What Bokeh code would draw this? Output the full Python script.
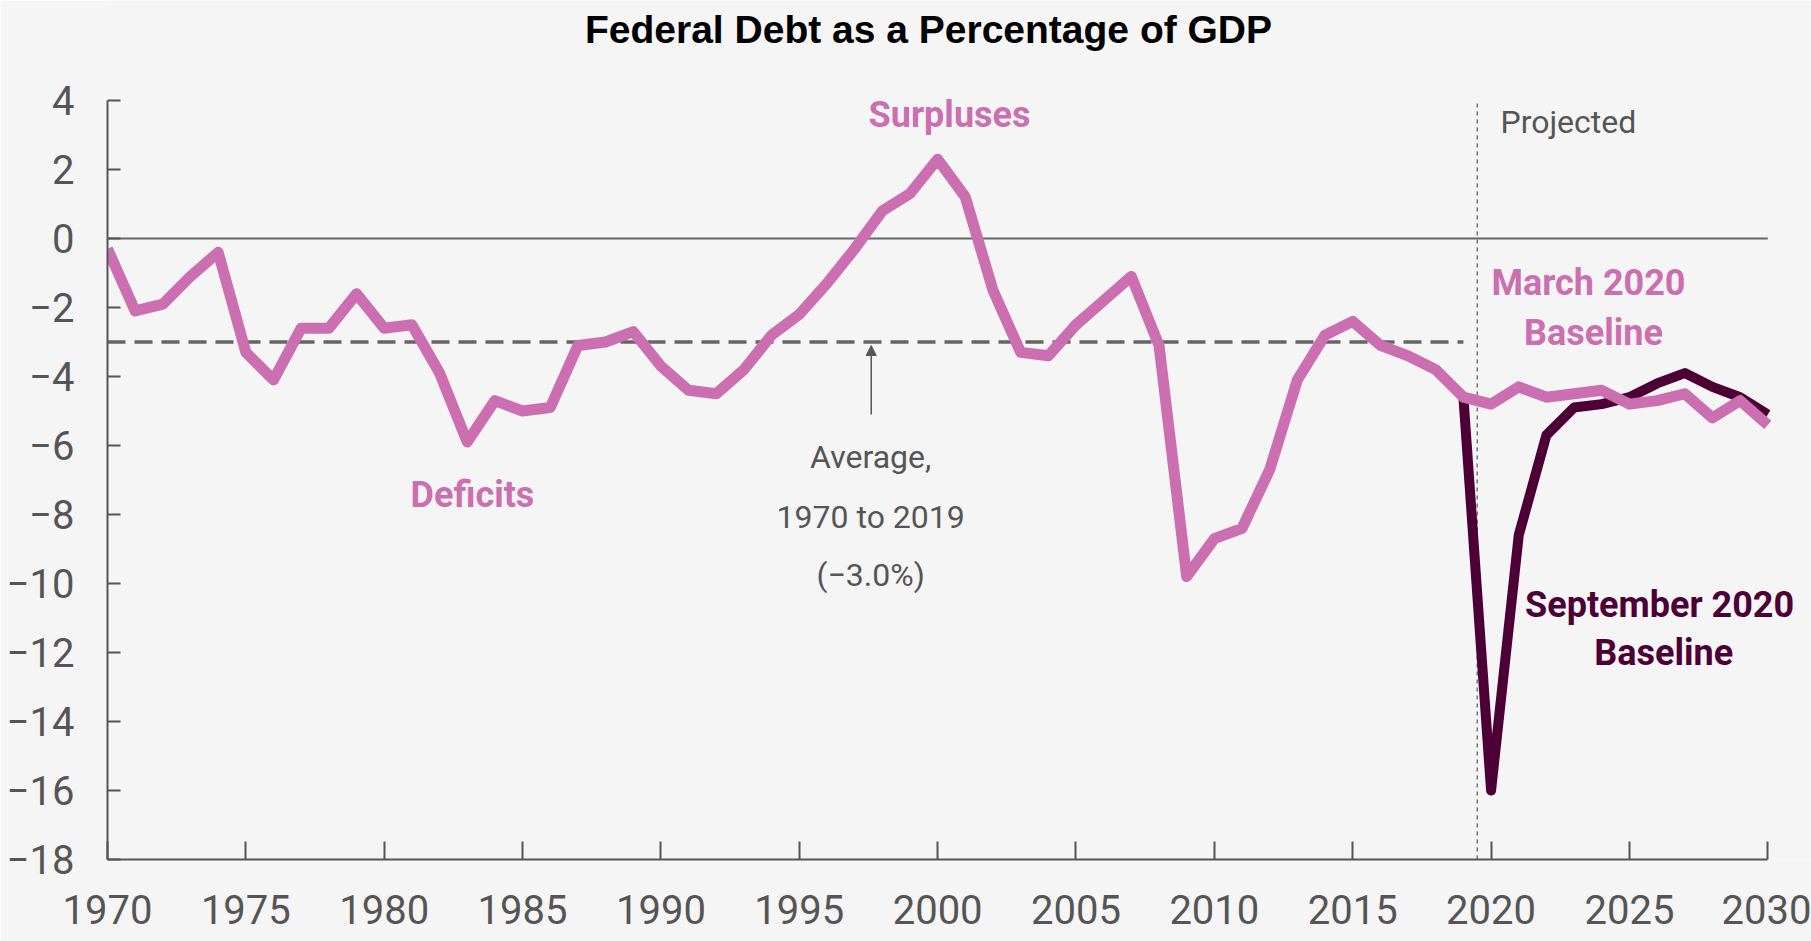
from bokeh.plotting import figure
from bokeh.models import Range1d, FixedTicker, Arrow, NormalHead
from bokeh.core.properties import value
from bokeh.embed import file_html
from bokeh.resources import INLINE

# ---------------- data ----------------
years = list(range(1970, 2031))
# actual 1970-2019, then March 2020 baseline 2020-2030 (% of GDP)
march_baseline = [
    -0.3, -2.1, -1.9, -1.1, -0.4, -3.3, -4.1, -2.6, -2.6, -1.6,
    -2.6, -2.5, -3.9, -5.9, -4.7, -5.0, -4.9, -3.1, -3.0, -2.7,
    -3.7, -4.4, -4.5, -3.8, -2.8, -2.2, -1.3, -0.3, 0.8, 1.3,
    2.3, 1.2, -1.5, -3.3, -3.4, -2.5, -1.8, -1.1, -3.1, -9.8,
    -8.7, -8.4, -6.7, -4.1, -2.8, -2.4, -3.1, -3.4, -3.8, -4.6,
    -4.8, -4.3, -4.6, -4.5, -4.4, -4.8, -4.7, -4.5, -5.2, -4.7, -5.4,
]
sept_years = list(range(2019, 2031))
sept_baseline = [-4.6, -16.0, -8.6, -5.7, -4.9, -4.8, -4.6, -4.2, -3.9, -4.3, -4.6, -5.1]

average_value = -3.0
average_span = [1970, 2019]
projection_start = 2019.5
x_ticks = [1970, 1975, 1980, 1985, 1990, 1995, 2000, 2005, 2010, 2015, 2020, 2025, 2030]
y_ticks = [-18, -16, -14, -12, -10, -8, -6, -4, -2, 0, 2, 4]

PINK = "#cc6fb0"
PLUM = "#4c0035"
GRAY = "#555555"
BG = "#f5f5f5"
SANS = "Roboto"
TITLE_FONT = "Liberation Sans"

p = figure(width=1811, height=941,
           x_range=Range1d(1970, 2031.58), y_range=Range1d(-18, 6.899),
           output_backend="svg", toolbar_location=None, title=None,
           min_border_left=107, min_border_right=0, min_border_top=0, min_border_bottom=82)
p.background_fill_color = BG
p.border_fill_color = BG
p.outline_line_color = None
p.xgrid.visible = False
p.ygrid.visible = False

for ax in (p.xaxis[0], p.yaxis[0]):
    ax.axis_line_color = GRAY
    ax.axis_line_width = 2
    ax.major_tick_line_color = GRAY
    ax.major_tick_line_width = 2
    ax.minor_tick_line_color = None
    ax.major_tick_out = 0
    ax.major_label_text_font = SANS
    ax.major_label_text_font_size = "40px"
    ax.major_label_text_color = GRAY

p.xaxis.ticker = FixedTicker(ticks=x_ticks)
p.yaxis.ticker = FixedTicker(ticks=y_ticks)
p.xaxis.bounds = (x_ticks[0], x_ticks[-1])
p.yaxis.bounds = (y_ticks[0], y_ticks[-1])
p.xaxis.major_tick_in = 18
p.yaxis.major_tick_in = 13
p.xaxis.major_label_standoff = 35
p.yaxis.major_label_standoff = 33

# reference lines
p.segment(x0=[x_ticks[0]], y0=[0], x1=[x_ticks[-1]], y1=[0], line_color="#666666", line_width=2)
p.segment(x0=[average_span[0]], y0=[average_value], x1=[average_span[1]], y1=[average_value],
          line_color=GRAY, line_width=3.5, line_dash="18 9", line_alpha=0.9)
p.segment(x0=[projection_start], y0=[y_ticks[0]], x1=[projection_start], y1=[y_ticks[-1]],
          line_color="#777777", line_width=1.5, line_dash="4 4")

# series
p.line(sept_years, sept_baseline, line_color=PLUM, line_width=10, line_join="round")
p.line(years, march_baseline, line_color=PINK, line_width=11, line_join="round")

# arrow to average line
p.add_layout(Arrow(end=NormalHead(size=10, fill_color=GRAY, line_color=GRAY),
                   x_start=1997.6, y_start=-5.1, x_end=1997.6, y_end=-3.1,
                   line_color=GRAY, line_width=1.5))

# texts
p.text(x=[1999.67], y=[6.05], text=["Federal Debt as a Percentage of GDP"],
       text_font=value(TITLE_FONT), text_font_style="bold", text_font_size="39px",
       text_color="#000000", text_align="center", text_baseline="alphabetic")

p.text(x=[2000.43, 1983.19], y=[3.58, -7.43], text=["Surpluses", "Deficits"],
       text_font=value(SANS), text_font_style="bold", text_font_size="36px",
       text_color=PINK, text_align="center", text_baseline="alphabetic")

p.text(x=[2023.52, 2023.70], y=[-1.29, -2.74], text=["March 2020", "Baseline"],
       text_font=value(SANS), text_font_style="bold", text_font_size="36px",
       text_color=PINK, text_align="center", text_baseline="alphabetic")

p.text(x=[2026.09, 2026.24], y=[-10.62, -12.01], text=["September 2020", "Baseline"],
       text_font=value(SANS), text_font_style="bold", text_font_size="36px",
       text_color=PLUM, text_align="center", text_baseline="alphabetic")

p.text(x=[1997.58, 1997.58, 1997.58], y=[-6.33, -8.07, -9.75],
       text=["Average,", "1970 to 2019", "(\u22123.0%)"],
       text_font=value(SANS), text_font_size="32px",
       text_color=GRAY, text_align="center", text_baseline="alphabetic")

p.text(x=[2020.34], y=[3.38], text=["Projected"],
       text_font=value(SANS), text_font_size="32px",
       text_color=GRAY, text_align="left", text_baseline="alphabetic")

open("out.html", "w").write(file_html(p, INLINE))
